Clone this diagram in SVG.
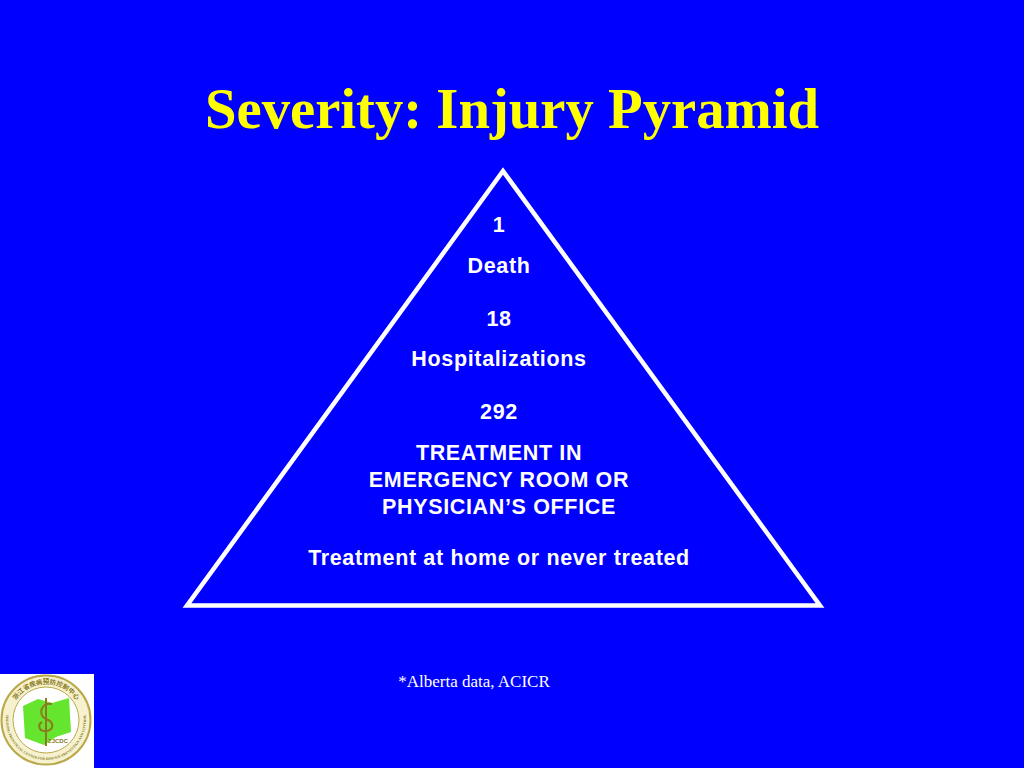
<svg xmlns="http://www.w3.org/2000/svg" width="1024" height="768" viewBox="0 0 1024 768">
<style>
.t{font-family:"Liberation Sans",Arial,sans-serif;font-size:21.5px;font-weight:700;fill:#fff;text-anchor:middle;letter-spacing:0.65px}
.r{font-weight:700;fill:#8a7a20;text-anchor:middle}
</style>
<defs>
<path id="arcTop" d="M10,720 A36,36 0 0 1 82,720"/>
<path id="arcBottom" d="M8.4,706.3 A40,40 0 1 0 83.6,706.3"/>
</defs>
<rect width="1024" height="768" fill="#0000ff"/>
<text x="512" y="128" font-family="'Liberation Serif',serif" font-size="56.7" font-weight="700" fill="#ffff00" text-anchor="middle">Severity: Injury Pyramid</text>
<g id="pyramid"><polygon points="503,171 820,605.5 187,605.5" fill="none" stroke="#fff" stroke-width="4.5"/></g>
<g id="labels">
<text class="t" x="499" y="232">1</text>
<text class="t" x="499" y="273">Death</text>
<text class="t" x="499" y="326">18</text>
<text class="t" x="499" y="366">Hospitalizations</text>
<text class="t" x="499" y="419">292</text>
<text class="t" x="499" y="460">TREATMENT IN</text>
<text class="t" x="499" y="487">EMERGENCY ROOM OR</text>
<text class="t" x="499" y="514">PHYSICIAN’S OFFICE</text>
<text class="t" x="499" y="565">Treatment at home or never treated</text>
</g>
<text x="474" y="687" font-family="'Liberation Serif',serif" font-size="17" fill="#fff" text-anchor="middle">*Alberta data, ACICR</text>
<g id="logo">
<rect x="0" y="674" width="94" height="94" fill="#fff"/>
<circle cx="46" cy="720" r="44.5" fill="#f6f2cf" stroke="#b9a94a" stroke-width="2"/>
<circle cx="46" cy="720" r="33" fill="#fff" stroke="#b9a94a"/>
<text class="r" font-family="'Noto Sans CJK SC',sans-serif" font-size="6.5"><textPath href="#arcTop" startOffset="50%">浙江省疾病预防控制中心</textPath></text>
<text class="r" font-family="'Liberation Serif',serif" font-size="3.6"><textPath href="#arcBottom" startOffset="50%">ZHEJIANG PROVINCIAL CENTER FOR DISEASE PREVENTION AND CONTROL</textPath></text>
<polygon points="23,706 38,699 52,703 69,698 71,732 56,737 44,745 25,738" fill="#66e52e"/>
<path d="M46,698 V746" stroke="#8a7a20" stroke-width="2" fill="none"/>
<path d="M52,704 C40,702 38,716 46,719 C55,722 54,731 45,731 C38,731 38,724 42,722" stroke="#8a7a20" stroke-width="2" fill="none"/>
<text x="58" y="743" font-family="'Liberation Sans',sans-serif" font-size="6" font-weight="700" fill="#8a7a20" text-anchor="middle">ZJCDC</text>
</g>
</svg>
